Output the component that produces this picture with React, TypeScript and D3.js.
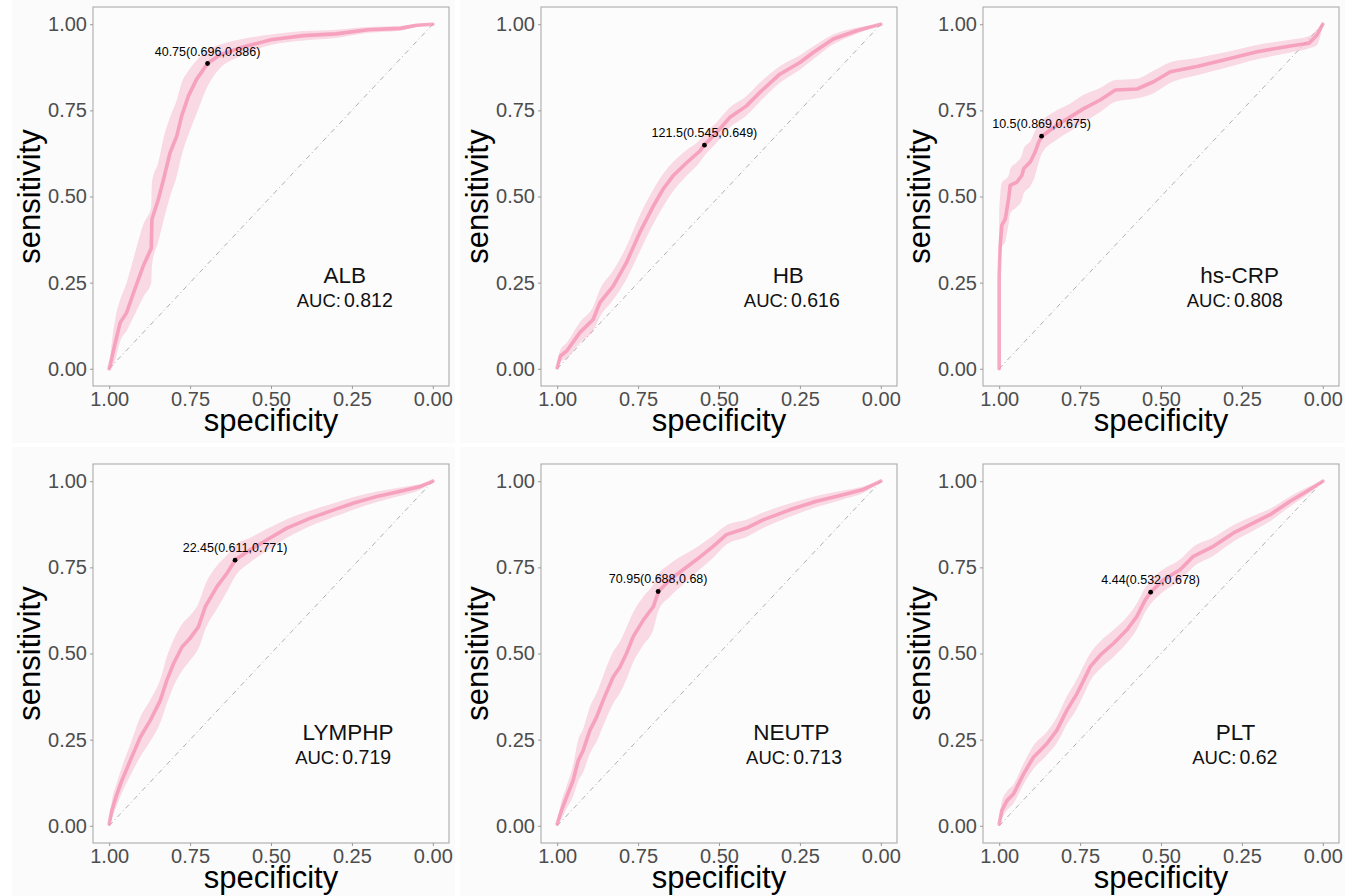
import React, { useEffect, useRef } from "react";
import * as d3 from "d3";

// panel labels
const markers = ["ALB", "HB", "hs-CRP", "LYMPHP", "NEUTP", "PLT"];
const aucValues = ["0.812", "0.616", "0.808", "0.719", "0.713", "0.62"];
const cutLabels = [
  "40.75(0.696,0.886)",
  "121.5(0.545,0.649)",
  "10.5(0.869,0.675)",
  "22.45(0.611,0.771)",
  "70.95(0.688,0.68)",
  "4.44(0.532,0.678)",
];
const cutSpec = [0.696, 0.545, 0.869, 0.611, 0.688, 0.532];
const cutSens = [0.886, 0.649, 0.675, 0.771, 0.68, 0.678];
const tickValues = [1, 0.75, 0.5, 0.25, 0];

// ROC curves (specificity, sensitivity, CI of sensitivity)
const albSpec = [1.0, 0.99, 0.98, 0.966, 0.946, 0.925, 0.894, 0.87, 0.868, 0.848, 0.832, 0.812, 0.791, 0.776, 0.755, 0.73, 0.696, 0.66, 0.6, 0.5, 0.4, 0.3, 0.2, 0.1, 0.05, 0.0];
const albSens = [0.0, 0.04, 0.08, 0.134, 0.163, 0.22, 0.3, 0.35, 0.434, 0.492, 0.55, 0.627, 0.676, 0.734, 0.792, 0.84, 0.886, 0.91, 0.93, 0.955, 0.967, 0.972, 0.984, 0.988, 0.997, 1.0];
const albLo = [0.0, 0.005, 0.03, 0.08, 0.11, 0.15, 0.21, 0.25, 0.3, 0.37, 0.43, 0.5, 0.56, 0.62, 0.68, 0.74, 0.82, 0.87, 0.905, 0.94, 0.953, 0.96, 0.975, 0.982, 0.993, 1.0];
const albHi = [0.0, 0.09, 0.15, 0.2, 0.25, 0.32, 0.42, 0.47, 0.54, 0.6, 0.67, 0.73, 0.78, 0.83, 0.865, 0.895, 0.925, 0.94, 0.955, 0.97, 0.98, 0.984, 0.992, 0.995, 1.0, 1.0];

const hbSpec = [1.0, 0.99, 0.971, 0.93, 0.889, 0.868, 0.827, 0.786, 0.745, 0.703, 0.673, 0.642, 0.6, 0.559, 0.546, 0.508, 0.467, 0.415, 0.374, 0.312, 0.25, 0.209, 0.147, 0.075, 0.0];
const hbSens = [0.003, 0.037, 0.051, 0.105, 0.143, 0.192, 0.24, 0.308, 0.395, 0.472, 0.521, 0.56, 0.598, 0.632, 0.649, 0.685, 0.729, 0.763, 0.802, 0.855, 0.889, 0.918, 0.957, 0.981, 1.0];
const hbLo = [0.0, 0.02, 0.03, 0.075, 0.11, 0.15, 0.2, 0.26, 0.34, 0.42, 0.47, 0.515, 0.56, 0.6, 0.617, 0.655, 0.7, 0.735, 0.775, 0.83, 0.868, 0.898, 0.942, 0.972, 1.0];
const hbHi = [0.01, 0.055, 0.075, 0.135, 0.18, 0.23, 0.285, 0.355, 0.445, 0.52, 0.565, 0.6, 0.635, 0.665, 0.68, 0.715, 0.758, 0.792, 0.83, 0.878, 0.91, 0.935, 0.97, 0.99, 1.0];

const crpSpec = [1.0, 1.0, 0.997, 0.992, 0.981, 0.971, 0.966, 0.945, 0.93, 0.924, 0.904, 0.889, 0.878, 0.868, 0.822, 0.78, 0.739, 0.688, 0.641, 0.574, 0.523, 0.471, 0.389, 0.306, 0.203, 0.1, 0.043, 0.018, 0.0];
const crpSens = [0.0, 0.27, 0.357, 0.416, 0.435, 0.493, 0.532, 0.542, 0.561, 0.581, 0.6, 0.629, 0.658, 0.675, 0.707, 0.731, 0.755, 0.78, 0.809, 0.812, 0.833, 0.862, 0.877, 0.896, 0.92, 0.937, 0.945, 0.969, 1.0];
const crpLo = [0.0, 0.25, 0.3, 0.35, 0.37, 0.42, 0.45, 0.47, 0.49, 0.51, 0.53, 0.56, 0.6, 0.625, 0.665, 0.69, 0.715, 0.745, 0.775, 0.785, 0.8, 0.83, 0.852, 0.872, 0.898, 0.918, 0.93, 0.94, 1.0];
const crpHi = [0.0, 0.45, 0.5, 0.54, 0.55, 0.56, 0.58, 0.6, 0.62, 0.64, 0.66, 0.69, 0.71, 0.72, 0.75, 0.77, 0.795, 0.815, 0.838, 0.842, 0.865, 0.89, 0.902, 0.918, 0.94, 0.955, 0.965, 0.985, 1.0];

const lymSpec = [1.0, 0.992, 0.976, 0.961, 0.935, 0.904, 0.873, 0.842, 0.822, 0.801, 0.775, 0.75, 0.724, 0.703, 0.667, 0.636, 0.61, 0.564, 0.512, 0.451, 0.378, 0.306, 0.244, 0.172, 0.1, 0.038, 0.0];
const lymSens = [0.005, 0.044, 0.092, 0.131, 0.189, 0.257, 0.306, 0.364, 0.422, 0.471, 0.519, 0.544, 0.578, 0.636, 0.694, 0.733, 0.772, 0.801, 0.83, 0.864, 0.893, 0.917, 0.937, 0.956, 0.971, 0.985, 1.0];
const lymLo = [0.0, 0.02, 0.06, 0.095, 0.145, 0.2, 0.245, 0.3, 0.355, 0.405, 0.45, 0.48, 0.515, 0.57, 0.63, 0.68, 0.725, 0.765, 0.798, 0.836, 0.87, 0.896, 0.918, 0.94, 0.958, 0.976, 1.0];
const lymHi = [0.01, 0.07, 0.125, 0.17, 0.235, 0.315, 0.365, 0.425, 0.49, 0.54, 0.585, 0.61, 0.645, 0.7, 0.755, 0.785, 0.815, 0.836, 0.862, 0.89, 0.915, 0.936, 0.954, 0.97, 0.982, 0.992, 1.0];

const neuSpec = [1.0, 0.987, 0.971, 0.951, 0.935, 0.92, 0.899, 0.878, 0.858, 0.827, 0.806, 0.786, 0.765, 0.734, 0.703, 0.687, 0.652, 0.611, 0.57, 0.518, 0.477, 0.415, 0.364, 0.281, 0.199, 0.116, 0.054, 0.0];
const neuSens = [0.005, 0.044, 0.083, 0.131, 0.189, 0.218, 0.277, 0.316, 0.364, 0.432, 0.461, 0.5, 0.549, 0.597, 0.636, 0.68, 0.714, 0.743, 0.772, 0.811, 0.845, 0.864, 0.888, 0.917, 0.942, 0.961, 0.976, 1.0];
const neuLo = [0.0, 0.02, 0.05, 0.085, 0.13, 0.155, 0.21, 0.245, 0.29, 0.355, 0.385, 0.425, 0.475, 0.525, 0.57, 0.625, 0.665, 0.7, 0.735, 0.778, 0.816, 0.838, 0.864, 0.897, 0.925, 0.948, 0.966, 1.0];
const neuHi = [0.01, 0.07, 0.115, 0.175, 0.25, 0.28, 0.345, 0.385, 0.435, 0.505, 0.535, 0.575, 0.62, 0.665, 0.7, 0.73, 0.76, 0.785, 0.808, 0.842, 0.872, 0.888, 0.909, 0.935, 0.957, 0.973, 0.985, 1.0];

const pltSpec = [1.0, 0.992, 0.976, 0.956, 0.925, 0.894, 0.853, 0.822, 0.791, 0.76, 0.739, 0.719, 0.688, 0.647, 0.606, 0.575, 0.549, 0.531, 0.492, 0.441, 0.4, 0.338, 0.276, 0.214, 0.163, 0.101, 0.049, 0.0];
const pltSens = [0.005, 0.044, 0.073, 0.092, 0.15, 0.199, 0.238, 0.277, 0.335, 0.383, 0.422, 0.461, 0.495, 0.529, 0.568, 0.607, 0.655, 0.679, 0.714, 0.743, 0.782, 0.811, 0.85, 0.879, 0.903, 0.942, 0.971, 1.0];
const pltLo = [0.0, 0.02, 0.045, 0.065, 0.12, 0.165, 0.205, 0.24, 0.295, 0.34, 0.38, 0.42, 0.455, 0.49, 0.53, 0.57, 0.62, 0.645, 0.68, 0.712, 0.752, 0.784, 0.825, 0.857, 0.884, 0.927, 0.96, 1.0];
const pltHi = [0.01, 0.07, 0.1, 0.12, 0.18, 0.233, 0.272, 0.315, 0.375, 0.425, 0.465, 0.5, 0.535, 0.568, 0.605, 0.645, 0.69, 0.713, 0.745, 0.773, 0.81, 0.837, 0.873, 0.9, 0.92, 0.956, 0.982, 1.0];

const specs = [albSpec, hbSpec, crpSpec, lymSpec, neuSpec, pltSpec];
const senss = [albSens, hbSens, crpSens, lymSens, neuSens, pltSens];
const los = [albLo, hbLo, crpLo, lymLo, neuLo, pltLo];
const his = [albHi, hbHi, crpHi, lymHi, neuHi, pltHi];

// where the marker name / AUC text sit (in specificity units)
const nameAt = [0.272, 0.286, 0.257, 0.262, 0.276, 0.27];
const aucAt = [0.272, 0.275, 0.272, 0.277, 0.268, 0.272];

const FONT = "'Liberation Sans', Arial, Helvetica, sans-serif";
const PINK = "#F48FB1";

export default function App() {
  const ref = useRef<SVGSVGElement | null>(null);

  useEffect(() => {
    const svg = d3.select(ref.current);
    svg.selectAll("*").remove();

    const W = 1359, H = 896;
    svg.append("rect").attr("width", W).attr("height", H).attr("fill", "#ffffff");

    const colLeft = [93, 541, 983];
    const rowTop = [7, 464];
    const bgTop = [0, 447];
    const bgBottom = [443, 896];
    const pw = 356, ph = 379;

    markers.forEach((name, i) => {
      const col = i % 3, row = Math.floor(i / 3);
      const left = colLeft[col], top = rowTop[row];

      // subplot background
      svg.append("rect")
        .attr("x", left - 81).attr("y", bgTop[row])
        .attr("width", pw + 87).attr("height", bgBottom[row] - bgTop[row])
        .attr("fill", "#fbfbfb");

      const x = d3.scaleLinear().domain([1.05, -0.05]).range([left, left + pw]);
      const y = d3.scaleLinear().domain([-0.05, 1.05]).range([top + ph, top]);

      const g = svg.append("g");

      g.append("rect")
        .attr("x", left).attr("y", top).attr("width", pw).attr("height", ph)
        .attr("fill", "#fcfcfc");

      // diagonal reference
      g.append("line")
        .attr("x1", x(1)).attr("y1", y(0)).attr("x2", x(0)).attr("y2", y(1))
        .attr("stroke", "#b0b0b0").attr("stroke-width", 1)
        .attr("stroke-dasharray", "5,3,1,3");

      const pts = specs[i].map((s, k) => ({ s, se: senss[i][k], lo: los[i][k], hi: his[i][k] }));

      const band = d3.area<any>()
        .x(d => x(d.s)).y0(d => y(d.lo)).y1(d => y(d.hi))
        .curve(d3.curveMonotoneX);
      g.append("path").datum(pts).attr("d", band)
        .attr("fill", PINK).attr("fill-opacity", 0.32);

      const line = d3.line<any>().x(d => x(d.s)).y(d => y(d.se));
      g.append("path").datum(pts).attr("d", line)
        .attr("fill", "none").attr("stroke", PINK).attr("stroke-opacity", 0.75)
        .attr("stroke-width", 3.6).attr("stroke-linejoin", "round").attr("stroke-linecap", "round");

      // border
      g.append("rect")
        .attr("x", left).attr("y", top).attr("width", pw).attr("height", ph)
        .attr("fill", "none").attr("stroke", "#a3a3a3").attr("stroke-width", 1);

      // axes
      const ax = g.append("g").attr("transform", `translate(0,${top + ph})`)
        .call(d3.axisBottom(x).tickValues(tickValues).tickFormat(d3.format(".2f")).tickSize(3).tickPadding(3));
      const ay = g.append("g").attr("transform", `translate(${left},0)`)
        .call(d3.axisLeft(y).tickValues(tickValues).tickFormat(d3.format(".2f")).tickSize(3).tickPadding(3));
      [ax, ay].forEach(a => {
        a.select(".domain").remove();
        a.selectAll("line").attr("stroke", "#999999");
        a.selectAll("text").attr("fill", "#4d4d4d").style("font-size", "20px").style("font-family", FONT);
      });

      // axis titles
      g.append("text")
        .attr("x", left + pw / 2).attr("y", top + ph + 45)
        .attr("text-anchor", "middle").style("font-size", "31px").style("font-family", FONT)
        .attr("fill", "#000").text("specificity");
      g.append("text")
        .attr("transform", `translate(${left - 53},${top + ph / 2}) rotate(-90)`)
        .attr("text-anchor", "middle").style("font-size", "31px").style("font-family", FONT)
        .attr("fill", "#000").text("sensitivity");

      // cutoff point
      g.append("circle")
        .attr("cx", x(cutSpec[i])).attr("cy", y(cutSens[i])).attr("r", 2.4).attr("fill", "#000");
      g.append("text")
        .attr("x", x(cutSpec[i])).attr("y", y(cutSens[i]) - 8)
        .attr("text-anchor", "middle").style("font-size", "12.5px").style("font-family", FONT)
        .attr("fill", "#000").text(cutLabels[i]);

      // marker name and AUC
      g.append("text")
        .attr("x", x(nameAt[i])).attr("y", y(0.25))
        .attr("text-anchor", "middle").style("font-size", "22.5px").style("font-family", FONT)
        .attr("fill", "#111").text(name);
      const auc = g.append("text")
        .attr("x", x(aucAt[i])).attr("y", y(0.18))
        .attr("text-anchor", "middle").style("font-family", FONT).attr("fill", "#111");
      auc.append("tspan").style("font-size", "18.5px").text("AUC:");
      auc.append("tspan").attr("dx", 3).style("font-size", "19.5px").text(aucValues[i]);
    });
  }, []);

  return (
    <svg ref={ref} width={1359} height={896}
      style={{ position: "absolute", left: 0, top: 0, display: "block" }} />
  );
}
